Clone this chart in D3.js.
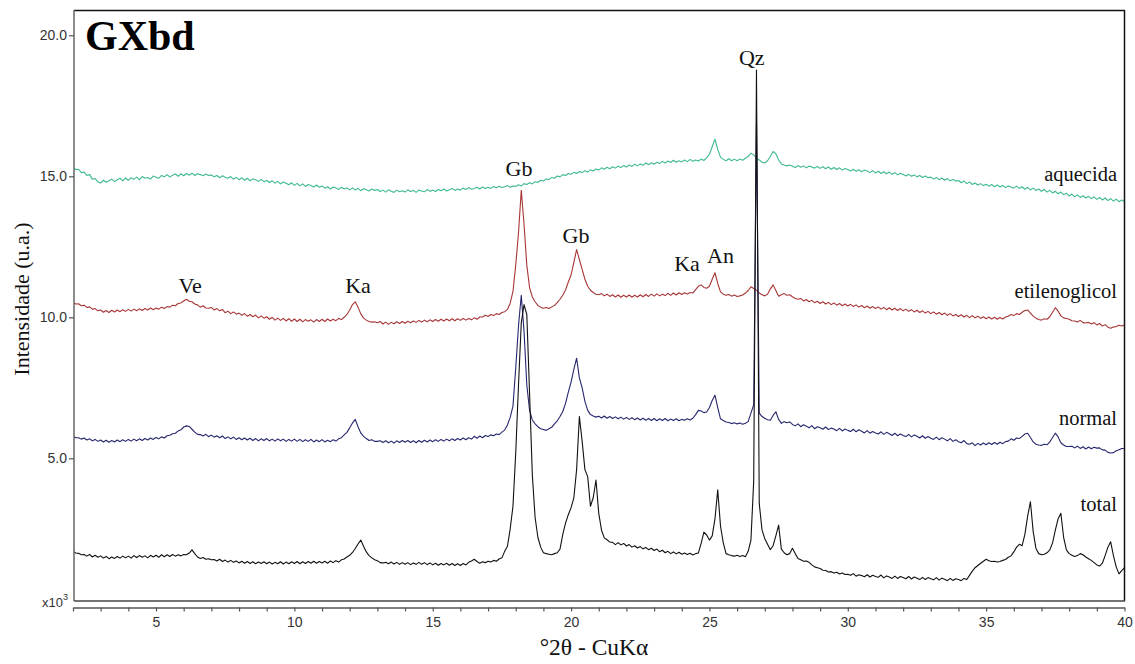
<!DOCTYPE html>
<html><head><meta charset="utf-8">
<script src="https://cdn.jsdelivr.net/npm/d3@7"></script>
<style>body{margin:0;background:#fff}svg{display:block}</style>
</head><body><svg id="c" width="1135" height="664"></svg>
<script>
// 2θ sampling grid: 2.0 .. 40.0 step 0.1 (381 points)
const thetaStart = 2, thetaStep = 0.1;

const aquecida = [
15.32,15.24,15.25,15.13,15.15,15.03,15.06,14.90,14.92,14.80,
14.76,14.86,14.79,14.84,14.90,14.81,14.88,14.93,14.84,14.94,
14.86,14.95,14.89,14.97,14.88,14.99,14.93,14.96,14.90,15.01,
14.97,14.93,15.03,14.98,15.06,14.97,15.04,15.08,15.00,15.09,
15.02,15.10,15.04,15.11,15.03,15.09,15.06,15.02,15.08,15.03,
15.05,14.98,15.03,14.95,15.02,14.97,14.93,14.99,14.90,14.96,
14.88,14.95,14.86,14.93,14.84,14.91,14.88,14.82,14.89,14.81,
14.85,14.78,14.84,14.76,14.82,14.73,14.80,14.75,14.70,14.77,
14.68,14.75,14.66,14.73,14.64,14.71,14.67,14.62,14.69,14.61,
14.66,14.58,14.63,14.55,14.62,14.59,14.53,14.61,14.55,14.59,
14.52,14.59,14.51,14.57,14.49,14.56,14.52,14.48,14.55,14.50,
14.53,14.46,14.51,14.44,14.52,14.47,14.43,14.51,14.45,14.49,
14.44,14.52,14.46,14.50,14.43,14.51,14.48,14.45,14.53,14.47,
14.51,14.46,14.53,14.49,14.55,14.48,14.52,14.57,14.50,14.55,
14.51,14.58,14.53,14.60,14.54,14.57,14.61,14.55,14.62,14.57,
14.61,14.57,14.64,14.59,14.65,14.60,14.63,14.67,14.61,14.66,
14.64,14.70,14.66,14.74,14.71,14.77,14.73,14.81,14.78,14.86,
14.83,14.91,14.88,14.96,14.93,15.01,14.98,15.06,15.03,15.10,
15.07,15.14,15.10,15.17,15.13,15.20,15.15,15.23,15.19,15.26,
15.22,15.30,15.25,15.32,15.27,15.34,15.29,15.36,15.31,15.38,
15.33,15.40,15.35,15.43,15.37,15.44,15.39,15.47,15.41,15.48,
15.43,15.50,15.45,15.53,15.47,15.54,15.49,15.57,15.50,15.55,
15.51,15.58,15.52,15.60,15.53,15.58,15.54,15.61,15.56,15.66,
15.78,16.05,16.32,15.95,15.68,15.60,15.55,15.62,15.55,15.61,
15.55,15.61,15.57,15.64,15.70,15.82,15.76,15.64,15.58,15.50,
15.47,15.55,15.70,15.88,15.80,15.58,15.44,15.40,15.37,15.40,
15.36,15.31,15.38,15.32,15.37,15.30,15.36,15.33,15.29,15.35,
15.28,15.34,15.27,15.33,15.25,15.31,15.24,15.30,15.22,15.28,
15.24,15.19,15.25,15.18,15.23,15.16,15.22,15.19,15.13,15.20,
15.12,15.18,15.10,15.16,15.09,15.15,15.07,15.13,15.05,15.11,
15.06,15.01,15.07,15.00,15.05,14.98,15.03,14.96,15.01,14.95,
14.97,14.90,14.96,14.88,14.94,14.86,14.92,14.84,14.89,14.83,
14.85,14.77,14.83,14.74,14.80,14.71,14.76,14.69,14.74,14.67,
14.72,14.65,14.71,14.63,14.69,14.62,14.68,14.60,14.66,14.62,
14.58,14.65,14.57,14.63,14.54,14.61,14.52,14.58,14.50,14.55,
14.47,14.54,14.44,14.50,14.41,14.47,14.38,14.44,14.35,14.40,
14.30,14.37,14.28,14.34,14.25,14.31,14.23,14.29,14.21,14.27,
14.18,14.25,14.16,14.23,14.14,14.21,14.12,14.19,14.10,14.16,
14.10];

const etilenoglicol = [
10.53,10.47,10.48,10.41,10.43,10.35,10.37,10.29,10.31,10.23,
10.26,10.18,10.24,10.17,10.25,10.19,10.26,10.20,10.27,10.21,
10.28,10.22,10.29,10.23,10.30,10.24,10.31,10.26,10.33,10.27,
10.33,10.29,10.36,10.31,10.38,10.36,10.43,10.41,10.49,10.51,
10.58,10.64,10.57,10.55,10.47,10.44,10.36,10.41,10.33,10.32,
10.35,10.26,10.31,10.23,10.28,10.16,10.22,10.13,10.19,10.11,
10.15,10.07,10.13,10.04,10.10,10.02,10.08,9.98,10.05,9.97,
10.02,9.93,10.00,9.90,9.97,9.89,9.96,9.87,9.95,9.86,
9.94,9.85,9.93,9.84,9.92,9.86,9.91,9.83,9.92,9.85,
9.93,9.85,9.94,9.87,9.93,9.88,9.96,9.92,10.00,10.10,
10.26,10.45,10.55,10.36,10.12,9.97,9.90,9.85,9.83,9.84,
9.81,9.85,9.76,9.83,9.75,9.82,9.77,9.84,9.78,9.85,
9.79,9.86,9.81,9.87,9.82,9.89,9.83,9.90,9.84,9.91,
9.85,9.92,9.86,9.93,9.87,9.94,9.88,9.95,9.88,9.95,
9.89,9.96,9.90,9.96,9.91,9.98,9.93,10.01,10.01,10.07,
10.03,10.10,10.06,10.13,10.10,10.17,10.20,10.28,10.50,10.92,
11.85,13.00,14.50,13.30,11.85,11.05,10.72,10.55,10.42,10.36,
10.32,10.35,10.31,10.37,10.42,10.52,10.64,10.78,10.97,11.25,
11.50,11.95,12.40,12.05,11.70,11.35,11.10,10.96,10.88,10.82,
10.80,10.84,10.76,10.82,10.74,10.80,10.72,10.79,10.71,10.78,
10.72,10.79,10.71,10.78,10.72,10.80,10.73,10.81,10.74,10.82,
10.75,10.83,10.76,10.82,10.77,10.85,10.78,10.86,10.79,10.87,
10.81,10.87,10.83,10.88,10.86,10.98,11.10,11.15,11.06,11.03,
11.10,11.35,11.58,11.20,10.90,10.82,10.78,10.81,10.75,10.79,
10.74,10.76,10.79,10.86,10.95,11.08,11.02,10.96,10.86,10.80,
10.76,10.82,11.00,11.15,10.95,10.75,10.80,10.84,10.78,10.80,
10.73,10.67,10.64,10.67,10.58,10.63,10.55,10.60,10.52,10.57,
10.49,10.55,10.47,10.53,10.45,10.51,10.43,10.49,10.41,10.47,
10.40,10.46,10.38,10.44,10.36,10.42,10.34,10.40,10.32,10.38,
10.31,10.37,10.29,10.35,10.27,10.34,10.26,10.32,10.24,10.31,
10.23,10.29,10.21,10.27,10.19,10.25,10.17,10.23,10.15,10.21,
10.13,10.19,10.11,10.17,10.09,10.15,10.07,10.13,10.05,10.10,
10.03,10.09,10.01,10.07,9.99,10.06,9.98,10.04,9.96,10.02,
9.95,10.01,9.94,10.00,9.93,9.99,9.94,10.01,10.04,10.10,
10.06,10.13,10.10,10.18,10.24,10.26,10.15,10.04,9.97,9.92,
9.90,9.95,9.93,10.02,10.18,10.34,10.22,10.05,9.98,9.96,
9.93,9.88,9.87,9.83,9.89,9.81,9.80,9.82,9.76,9.81,
9.73,9.78,9.69,9.74,9.65,9.61,9.66,9.67,9.72,9.69,
9.73];

const normal = [
5.78,5.73,5.73,5.68,5.72,5.65,5.69,5.62,5.67,5.60,
5.65,5.58,5.64,5.57,5.63,5.58,5.65,5.59,5.66,5.60,
5.67,5.61,5.68,5.62,5.69,5.63,5.70,5.65,5.72,5.67,
5.74,5.69,5.76,5.72,5.80,5.82,5.87,5.89,5.97,6.01,
6.11,6.15,6.13,6.03,5.93,5.85,5.84,5.79,5.85,5.77,
5.82,5.75,5.80,5.73,5.79,5.70,5.76,5.69,5.75,5.67,
5.73,5.66,5.72,5.65,5.71,5.63,5.70,5.62,5.69,5.63,
5.70,5.62,5.68,5.61,5.69,5.62,5.68,5.60,5.67,5.61,
5.68,5.60,5.67,5.59,5.66,5.60,5.67,5.58,5.65,5.59,
5.66,5.58,5.64,5.59,5.66,5.61,5.69,5.73,5.83,5.92,
6.08,6.25,6.38,6.12,5.90,5.78,5.70,5.63,5.66,5.60,
5.60,5.62,5.56,5.62,5.55,5.61,5.54,5.62,5.56,5.63,
5.57,5.63,5.56,5.62,5.55,5.63,5.57,5.64,5.58,5.65,
5.59,5.66,5.60,5.67,5.61,5.68,5.62,5.69,5.63,5.70,
5.65,5.72,5.66,5.73,5.68,5.78,5.71,5.79,5.73,5.81,
5.77,5.83,5.80,5.86,5.84,5.93,6.00,6.18,6.45,6.85,
8.20,9.70,10.78,9.50,7.60,6.70,6.36,6.22,6.12,6.05,
6.02,5.99,6.05,6.10,6.22,6.33,6.48,6.66,6.95,7.35,
7.70,8.15,8.55,7.85,7.50,7.02,6.70,6.55,6.50,6.46,
6.49,6.43,6.50,6.42,6.48,6.41,6.47,6.40,6.46,6.39,
6.45,6.38,6.44,6.37,6.43,6.36,6.42,6.35,6.41,6.34,
6.41,6.33,6.40,6.34,6.41,6.33,6.39,6.34,6.40,6.33,
6.38,6.35,6.40,6.36,6.42,6.55,6.70,6.68,6.62,6.64,
6.80,7.05,7.24,6.80,6.40,6.34,6.29,6.27,6.23,6.26,
6.22,6.25,6.21,6.24,6.30,6.60,6.90,16.90,6.60,6.48,
6.42,6.37,6.35,6.52,6.65,6.38,6.24,6.30,6.26,6.29,
6.20,6.15,6.22,6.12,6.19,6.14,6.08,6.16,6.05,6.12,
6.08,6.03,6.11,6.02,6.07,6.04,5.98,6.06,5.97,6.04,
5.99,5.95,6.03,5.94,6.01,5.96,5.90,5.98,5.89,5.95,
5.90,5.86,5.94,5.85,5.92,5.87,5.81,5.89,5.80,5.86,
5.81,5.77,5.85,5.76,5.83,5.78,5.72,5.80,5.71,5.77,
5.71,5.67,5.75,5.66,5.73,5.68,5.62,5.70,5.60,5.66,
5.59,5.55,5.63,5.52,5.50,5.55,5.45,5.53,5.47,5.54,
5.48,5.55,5.49,5.56,5.50,5.57,5.52,5.59,5.61,5.69,
5.64,5.72,5.70,5.78,5.86,5.89,5.74,5.58,5.50,5.47,
5.46,5.50,5.48,5.58,5.74,5.89,5.76,5.55,5.47,5.42,
5.42,5.43,5.37,5.43,5.35,5.41,5.33,5.40,5.34,5.39,
5.36,5.37,5.30,5.29,5.21,5.19,5.20,5.27,5.30,5.35,
5.35];

const total = [
1.70,1.64,1.63,1.58,1.59,1.53,1.59,1.50,1.56,1.49,
1.54,1.46,1.52,1.44,1.50,1.45,1.52,1.46,1.53,1.47,
1.53,1.46,1.55,1.48,1.55,1.49,1.54,1.47,1.56,1.50,
1.56,1.49,1.58,1.51,1.58,1.52,1.59,1.53,1.58,1.54,
1.59,1.58,1.64,1.75,1.62,1.50,1.45,1.48,1.42,1.44,
1.40,1.41,1.36,1.42,1.34,1.39,1.32,1.38,1.31,1.36,
1.29,1.35,1.28,1.34,1.27,1.33,1.26,1.32,1.27,1.33,
1.26,1.32,1.25,1.31,1.26,1.33,1.25,1.32,1.26,1.33,
1.27,1.34,1.26,1.33,1.27,1.34,1.28,1.35,1.28,1.34,
1.29,1.35,1.28,1.36,1.30,1.37,1.32,1.40,1.43,1.50,
1.56,1.66,1.80,1.96,2.10,1.88,1.68,1.55,1.47,1.40,
1.37,1.30,1.29,1.31,1.26,1.32,1.25,1.31,1.24,1.30,
1.24,1.30,1.23,1.29,1.24,1.31,1.24,1.30,1.23,1.29,
1.22,1.28,1.21,1.27,1.22,1.28,1.21,1.27,1.20,1.26,
1.20,1.27,1.22,1.31,1.36,1.42,1.34,1.28,1.33,1.30,
1.35,1.32,1.38,1.35,1.43,1.47,1.70,1.88,2.50,3.30,
5.20,7.60,9.80,10.45,10.10,7.30,4.40,2.90,2.20,1.85,
1.65,1.62,1.60,1.58,1.62,1.65,1.78,2.30,2.70,3.00,
3.25,3.60,4.60,6.48,5.60,4.60,4.35,3.30,3.60,4.23,
3.05,2.45,2.18,2.11,2.03,2.02,1.94,2.01,1.93,1.98,
1.89,1.94,1.85,1.90,1.82,1.87,1.79,1.84,1.76,1.81,
1.73,1.78,1.69,1.74,1.65,1.70,1.62,1.68,1.61,1.67,
1.60,1.64,1.59,1.63,1.57,1.62,1.64,1.98,2.38,2.28,
2.10,2.25,2.85,3.88,2.60,2.00,1.62,1.58,1.55,1.53,
1.56,1.52,1.55,1.51,1.70,2.10,4.20,18.77,3.40,2.46,
2.15,1.95,1.76,1.90,2.25,2.63,1.78,1.65,1.58,1.62,
1.81,1.62,1.45,1.40,1.35,1.36,1.31,1.22,1.15,1.12,
1.09,1.03,1.02,0.97,0.98,0.93,0.96,0.90,0.93,0.88,
0.89,0.85,0.91,0.82,0.87,0.84,0.80,0.87,0.79,0.85,
0.81,0.78,0.86,0.76,0.83,0.79,0.74,0.82,0.74,0.81,
0.77,0.73,0.81,0.72,0.79,0.75,0.70,0.78,0.70,0.77,
0.73,0.69,0.77,0.68,0.75,0.71,0.66,0.74,0.67,0.73,
0.70,0.66,0.74,0.70,0.85,1.00,1.12,1.20,1.28,1.35,
1.42,1.37,1.34,1.35,1.32,1.34,1.38,1.41,1.49,1.54,
1.68,1.85,1.95,1.90,2.30,2.95,3.46,2.40,1.80,1.62,
1.58,1.60,1.65,1.75,2.00,2.45,2.85,3.05,2.20,1.75,
1.62,1.56,1.52,1.55,1.62,1.58,1.50,1.44,1.38,1.30,
1.22,1.18,1.28,1.55,1.85,2.04,1.55,1.15,0.90,1.02,
1.12];

const seriesNames  = ["aquecida", "etilenoglicol", "normal", "total"];
const seriesColors = ["#3fba8e", "#a83636", "#26266e", "#111111"];
const seriesValues = [aquecida, etilenoglicol, normal, total];

const xTickValues = d3.range(2, 41);
const xTickLabels = [5, 10, 15, 20, 25, 30, 35, 40];
const yTickValues = [5, 10, 15, 20];

// label anchors in data units [2θ, intensity]
const peakLabels = [
  ["Ve", 6.23, 10.86], ["Ka", 12.30, 10.86], ["Gb", 18.12, 15.01],
  ["Gb", 20.18, 12.65], ["Ka", 24.19, 11.64], ["An", 25.40, 11.93],
  ["Qz", 26.53, 18.95]
];
const seriesLabelPos = [14.83, 10.68, 6.18, 3.13];

(function draw() {
  const svg = d3.select("#c");
  const x = d3.scaleLinear().domain([2, 40]).range([73, 1124.5]);
  const y = d3.scaleLinear().domain([0, 20]).range([599.3, 35.3]);
  const fL = 74, fR = 1125, fT = 10, fB = 601;

  svg.append("defs").append("clipPath").attr("id", "clip")
    .append("rect").attr("x", fL).attr("y", fT)
    .attr("width", fR - fL).attr("height", fB - fT);

  const theta = aquecida.map((_, i) => +(thetaStart + i * thetaStep).toFixed(1));
  const line = d3.line().x((d, i) => x(theta[i])).y(d => y(d));

  const g = svg.append("g").attr("clip-path", "url(#clip)");
  seriesValues.forEach((vals, k) => {
    g.append("path").datum(vals).attr("d", line)
      .attr("fill", "none").attr("stroke", seriesColors[k])
      .attr("stroke-width", 1.1).attr("stroke-linejoin", "round");
  });

  // frame
  svg.append("line").attr("x1", fL).attr("x2", fR).attr("y1", fT + 0.5).attr("y2", fT + 0.5).attr("stroke", "#111").attr("stroke-width", 1.5);
  svg.append("line").attr("x1", fR - 0.5).attr("x2", fR - 0.5).attr("y1", fT).attr("y2", fB).attr("stroke", "#111").attr("stroke-width", 1.5);
  svg.append("line").attr("x1", fL).attr("x2", fR).attr("y1", fB).attr("y2", fB).attr("stroke", "#444").attr("stroke-width", 1.5);
  svg.append("line").attr("x1", fL).attr("x2", fL).attr("y1", fT).attr("y2", fB).attr("stroke", "#666").attr("stroke-width", 1.5);

  // x axis
  const xAxis = d3.axisBottom(x).tickValues(xTickValues)
    .tickFormat(d => xTickLabels.includes(d) ? d : "").tickSize(4).tickSizeOuter(0);
  const xa = svg.append("g").attr("transform", "translate(0,607.5)").call(xAxis);
  xa.select(".domain").attr("stroke", "#555").attr("stroke-width", 1.3);
  xa.selectAll(".tick line").attr("stroke", "#555").attr("stroke-width", 1.2);
  xa.selectAll(".tick text").attr("font-family", "'Liberation Sans', Arial, sans-serif")
    .attr("font-size", 14).attr("fill", "#333").attr("dy", "0.9em");

  // y axis
  const yAxis = d3.axisLeft(y).tickValues(yTickValues).tickFormat(d3.format(".1f")).tickSize(5).tickSizeOuter(0);
  const ya = svg.append("g").attr("transform", `translate(${fL},0)`).call(yAxis);
  ya.select(".domain").remove();
  ya.selectAll(".tick line").attr("stroke", "#555").attr("stroke-width", 1.2);
  ya.selectAll(".tick text").attr("font-family", "'Liberation Sans', Arial, sans-serif")
    .attr("font-size", 14).attr("fill", "#333").attr("x", -7);

  const mult = svg.append("text").attr("x", 68).attr("y", 607).attr("text-anchor", "end")
    .attr("font-family", "'Liberation Sans', Arial, sans-serif").attr("font-size", 13).attr("fill", "#333");
  mult.append("tspan").text("x10");
  mult.append("tspan").attr("dy", -7).attr("font-size", 9).text("3");

  const serif = "'Liberation Serif', 'Times New Roman', Times, serif";

  svg.append("text").attr("x", 85).attr("y", 50).attr("font-family", serif)
    .attr("font-weight", "bold").attr("font-size", 42).attr("fill", "#000").text("GXbd");

  svg.append("text").attr("transform", "translate(29,299) rotate(-90)").attr("text-anchor", "middle")
    .attr("font-family", serif).attr("font-size", 22).attr("fill", "#111").text("Intensidade (u.a.)");
  svg.append("text").attr("x", 594).attr("y", 655).attr("text-anchor", "middle")
    .attr("font-family", serif).attr("font-size", 23.5).attr("fill", "#111").text("°2θ - CuKα");

  svg.selectAll("text.peak").data(peakLabels).enter().append("text").attr("class", "peak")
    .attr("x", d => x(d[1])).attr("y", d => y(d[2])).attr("text-anchor", "middle")
    .attr("font-family", serif).attr("font-size", 22).attr("fill", "#111").text(d => d[0]);

  svg.selectAll("text.slab").data(seriesNames).enter().append("text").attr("class", "slab")
    .attr("x", x(39.73)).attr("y", (d, i) => y(seriesLabelPos[i])).attr("text-anchor", "end")
    .attr("font-family", serif).attr("font-size", 20.5).attr("fill", "#111").text(d => d);
})();
</script></body></html>
